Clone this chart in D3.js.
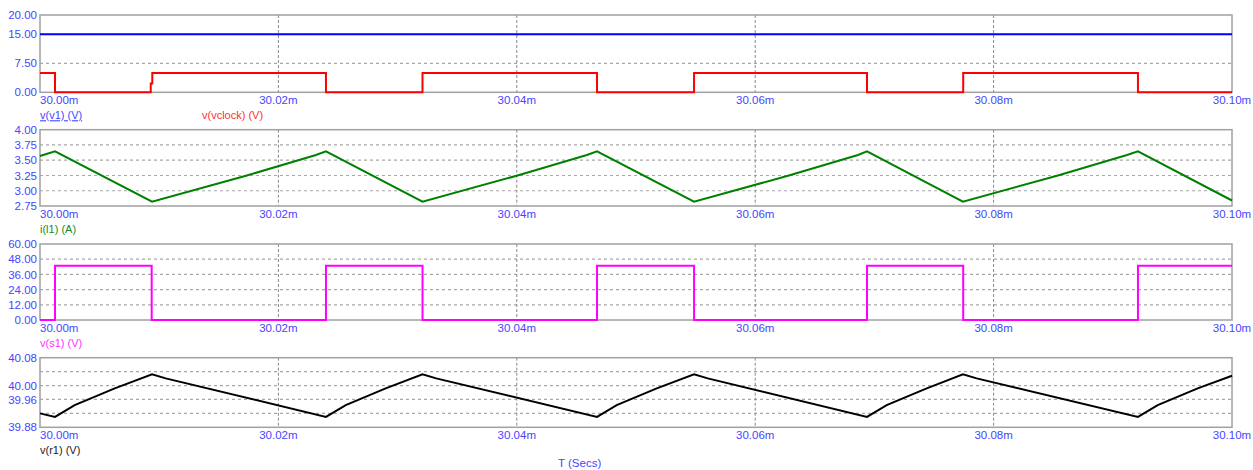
<!DOCTYPE html>
<html>
<head>
<meta charset="utf-8">
<script src="https://cdn.jsdelivr.net/npm/d3@7/dist/d3.min.js"></script>
<style>
  html, body { margin: 0; padding: 0; background: #fff; }
  svg { display: block; font-family: "Liberation Sans", Arial, sans-serif; }
</style>
</head>
<body>
<svg id="chart" width="1253" height="470"></svg>
<script>
// Time axis (ms)
const timeDomain = [30.00, 30.10];
const timeTicks = [30.00, 30.02, 30.04, 30.06, 30.08, 30.10];

// v(v1): DC supply
const v1Times = [30.00, 30.10];
const v1Values = [15, 15];

// v(vclock): gate clock
const clockTimes = [30.00000, 30.00126, 30.00126, 30.00929, 30.00929, 30.00942, 30.00942,
  30.02399, 30.02399, 30.03209, 30.03209, 30.04673, 30.04673, 30.05487, 30.05487,
  30.06938, 30.06938, 30.07745, 30.07745, 30.09211, 30.09211, 30.10000];
const clockValues = [5, 5, 0, 0, 2.3, 2.3, 5,
  5, 0, 0, 5, 5, 0, 0, 5,
  5, 0, 0, 5, 5, 0, 0];

// i(l1): inductor current
const iL1Times = [30.00000, 30.00126, 30.00940, 30.01728, 30.02315, 30.02399,
  30.03209, 30.03999, 30.04588, 30.04673, 30.05487, 30.06275, 30.06862, 30.06938,
  30.07743, 30.08532, 30.09119, 30.09211, 30.10000];
const iL1Values = [3.569, 3.645, 2.820, 3.246, 3.585, 3.645,
  2.820, 3.246, 3.585, 3.645, 2.820, 3.246, 3.585, 3.645,
  2.820, 3.246, 3.585, 3.645, 2.840];

// v(s1): switch node voltage
const s1Times = [30.00000, 30.00126, 30.00126, 30.00937, 30.00937, 30.02399, 30.02399,
  30.03209, 30.03209, 30.04673, 30.04673, 30.05487, 30.05487, 30.06938, 30.06938,
  30.07745, 30.07745, 30.09211, 30.09211, 30.10000];
const s1Values = [0, 0, 42.9, 42.9, 0, 0, 42.9,
  42.9, 0, 0, 42.9, 42.9, 0, 0, 42.9,
  42.9, 0, 0, 42.9, 42.9];

// v(r1): output voltage
const r1Times = [30.00000, 30.00126, 30.00291, 30.00627, 30.00940, 30.01055, 30.02399,
  30.02565, 30.02900, 30.03209, 30.03324, 30.04673,
  30.04838, 30.05174, 30.05487, 30.05602, 30.06938,
  30.07103, 30.07439, 30.07743, 30.07858, 30.09211,
  30.09377, 30.09712, 30.10000];
const r1Values = [39.920, 39.910, 39.9435, 39.9917, 40.032, 40.0205, 39.910,
  39.9435, 39.9917, 40.032, 40.0205, 39.910,
  39.9435, 39.9917, 40.032, 40.0205, 39.910,
  39.9435, 39.9917, 40.032, 40.0205, 39.910,
  39.9435, 39.9917, 40.028];

// Y tick labels and gridlines per panel
const p1Ticks = [0, 7.5, 15, 20];
const p1Grid = [7.5, 15];
const p2Ticks = [2.75, 3.00, 3.25, 3.50, 3.75, 4.00];
const p2Grid = [3.00, 3.25, 3.50, 3.75];
const p3Ticks = [0, 12, 24, 36, 48, 60];
const p3Grid = [12, 24, 36, 48];
const p4Ticks = [39.88, 39.96, 40.00, 40.08];
const p4Grid = [39.92, 39.96, 40.00, 40.04];

const svg = d3.select("#chart");
const left = 40, right = 1232;
const x = d3.scaleLinear().domain(timeDomain).range([left, right]);

const tickColor = "#4646ff";
const gridColor = "#a8a8a8";

const panels = [
  { top: 15, bottom: 92.3, domain: [0, 20], ticks: p1Ticks, grid: p1Grid,
    series: [
      { t: v1Times, v: v1Values, color: "#0000ff" },
      { t: clockTimes, v: clockValues, color: "#ff0000" }
    ],
    labels: [
      { text: "v(v1) (V)", x: 40, color: "#4646ff", underline: true },
      { text: "v(vclock) (V)", x: 202, color: "#ff3030" }
    ] },
  { top: 129.7, bottom: 206, domain: [2.75, 4], ticks: p2Ticks, grid: p2Grid,
    series: [{ t: iL1Times, v: iL1Values, color: "#008000" }],
    labels: [{ text: "i(l1) (A)", x: 40, color: "#1a8a1a" }] },
  { top: 244, bottom: 320, domain: [0, 60], ticks: p3Ticks, grid: p3Grid,
    series: [{ t: s1Times, v: s1Values, color: "#ff00ff" }],
    labels: [{ text: "v(s1) (V)", x: 40, color: "#ff33ff" }] },
  { top: 357.7, bottom: 427.3, domain: [39.88, 40.08], ticks: p4Ticks, grid: p4Grid,
    series: [{ t: r1Times, v: r1Values, color: "#000000" }],
    labels: [{ text: "v(r1) (V)", x: 40, color: "#222" }] }
];

panels.forEach(p => {
  const y = d3.scaleLinear().domain(p.domain).range([p.bottom, p.top]);
  const g = svg.append("g");

  // horizontal dashed gridlines
  g.selectAll("line.hgrid").data(p.grid).join("line")
    .attr("x1", left).attr("x2", right)
    .attr("y1", d => y(d)).attr("y2", d => y(d))
    .attr("stroke", gridColor).attr("stroke-width", 1.2)
    .attr("stroke-dasharray", "3,3");

  // vertical dashed gridlines at interior time ticks
  g.selectAll("line.vgrid").data(timeTicks.slice(1, -1)).join("line")
    .attr("x1", d => x(d)).attr("x2", d => x(d))
    .attr("y1", p.top).attr("y2", p.bottom)
    .attr("stroke", "#888").attr("stroke-width", 1)
    .attr("stroke-dasharray", "3,2");

  // frame
  g.append("rect")
    .attr("x", left).attr("y", p.top)
    .attr("width", right - left).attr("height", p.bottom - p.top)
    .attr("fill", "none").attr("stroke", "#a0a0a0").attr("stroke-width", 1.5);

  // traces
  p.series.forEach(s => {
    const pts = s.t.map((t, i) => [t, s.v[i]]);
    g.append("path")
      .datum(pts)
      .attr("fill", "none")
      .attr("stroke", s.color)
      .attr("stroke-width", 2)
      .attr("stroke-linejoin", "miter")
      .attr("d", d3.line().x(d => x(d[0])).y(d => y(d[1])));
  });

  // y tick labels
  g.selectAll("text.ytick").data(p.ticks).join("text")
    .attr("x", 37).attr("y", d => y(d))
    .attr("dy", "0.36em")
    .attr("text-anchor", "end")
    .attr("font-size", "11.5px")
    .attr("fill", tickColor)
    .text(d => d.toFixed(2));

  // x tick labels
  g.selectAll("text.xtick").data(timeTicks).join("text")
    .attr("x", d => x(d))
    .attr("y", p.bottom + 8)
    .attr("dy", "0.36em")
    .attr("text-anchor", (d, i) => i === 0 ? "start" : "middle")
    .attr("font-size", "11.5px")
    .attr("fill", tickColor)
    .text(d => d.toFixed(2) + "m");

  // series labels
  p.labels.forEach(l => {
    g.append("text")
      .attr("x", l.x).attr("y", p.bottom + 23)
      .attr("dy", "0.36em")
      .attr("font-size", "11px")
      .attr("fill", l.color)
      .attr("text-decoration", l.underline ? "underline" : null)
      .text(l.text);
  });
});

svg.append("text")
  .attr("x", 558).attr("y", 463)
  .attr("dy", "0.36em")
  .attr("font-size", "11.5px")
  .attr("fill", tickColor)
  .text("T (Secs)");
</script>
</body>
</html>
